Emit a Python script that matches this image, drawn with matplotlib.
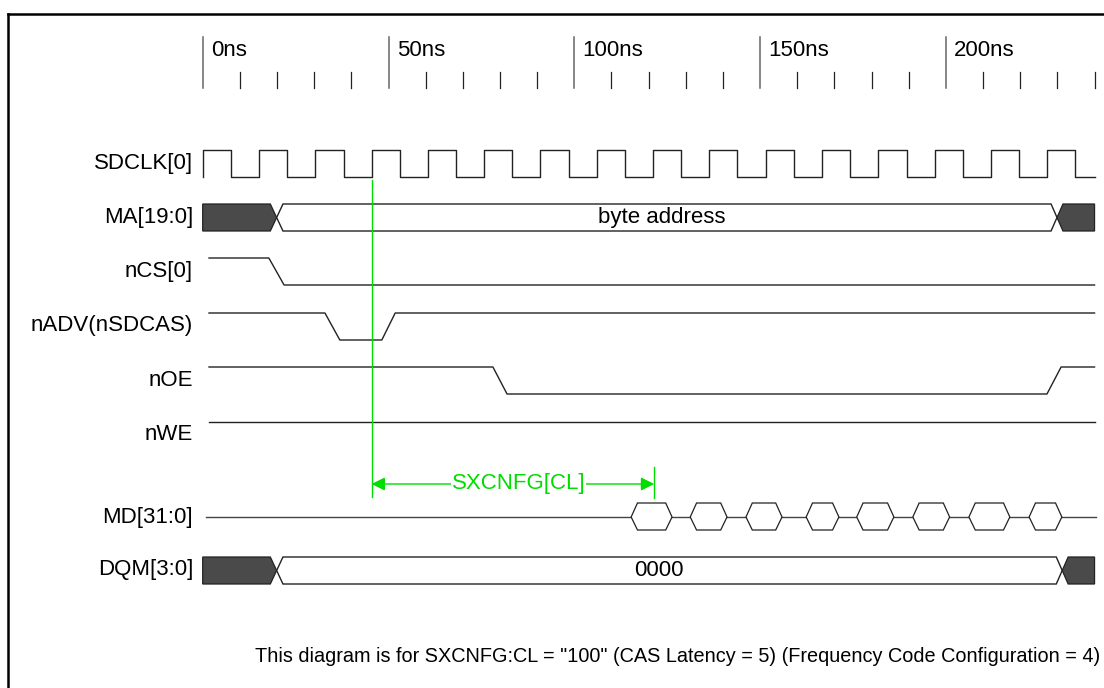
import numpy as np
import matplotlib.pyplot as plt
from matplotlib.patches import Polygon

plt.rcParams['font.family'] = ['Liberation Sans', 'DejaVu Sans']

# time axis (ns)
major_ticks = [0, 50, 100, 150, 200]
major_labels = ["0ns", "50ns", "100ns", "150ns", "200ns"]
minor_ticks = [10, 20, 30, 40, 60, 70, 80, 90, 110, 120, 130, 140,
               160, 170, 180, 190, 210, 220, 230, 240]

# SDCLK[0] edges (ns)
clk_rise = [0, 15.15, 30.3, 45.45, 60.6, 75.75, 90.9, 106.05, 121.2,
            136.35, 151.5, 166.65, 181.8, 196.95, 212.1, 227.25]
clk_fall = [7.6, 22.7, 37.9, 53.0, 68.2, 83.3, 98.5, 113.6, 128.8,
            143.9, 159.1, 174.2, 189.4, 204.5, 219.7, 234.8]

# control signals: times (ns) and levels
ncs_t = [1.7, 17.8, 21.9, 240]
ncs_v = [1, 1, 0, 0]
nadv_t = [1.7, 32.9, 36.9, 48.2, 51.8, 240]
nadv_v = [1, 1, 0, 0, 1, 1]
noe_t = [1.7, 78.1, 81.9, 227.2, 231.0, 240]
noe_v = [1, 1, 0, 0, 1, 1]
nwe_t = [1.7, 240]
nwe_v = [1, 1]

# busses: dark end, valid start, valid end, dark start
ma_edges = [18.2, 21.6, 228.3, 231.5]
dqm_edges = [18.2, 21.6, 229.7, 232.9]
ma_text_t = 123.5
dqm_text_t = 122.8

# MD[31:0] data windows
md_windows = [(115.3, 126.3), (131.2, 141.1), (146.2, 155.9), (162.4, 171.2),
              (176.0, 186.0), (191.1, 201.0), (206.2, 217.2), (222.4, 231.2)]

labels = ["SDCLK[0]", "MA[19:0]", "nCS[0]", "nADV(nSDCAS)", "nOE", "nWE",
          "MD[31:0]", "DQM[3:0]"]
label_y = [163, 217, 271, 325, 380, 435, 517, 570]

# pixel mapping: x_px = 202.7 + 3.716 * t
px_per_ns = 3.716
x0 = -202.7 / px_per_ns
x1 = (1104 - 202.7) / px_per_ns

line_c = '#222222'
dark_c = '#4a4a4a'
green = '#00dd00'
fs = 16

fig = plt.figure(figsize=(11.04, 6.88), dpi=100)
ax = fig.add_axes([0, 0, 1, 1])
ax.set_xlim(x0, x1)
ax.set_ylim(688, 0)
ax.axis('off')

# frame
ax.plot([(8.5 - 202.7) / px_per_ns, x1], [14, 14], color='black', lw=1.8)
ax.plot([(8.5 - 202.7) / px_per_ns] * 2, [14, 688], color='black', lw=1.8)

# time ruler
for t, lab in zip(major_ticks, major_labels):
    ax.plot([t, t], [37, 88], color='#666666', lw=1.1)
    ax.text(t + 2.2, 51, lab, fontsize=fs, ha='left', va='center')
for t in minor_ticks:
    ax.plot([t, t], [72, 88], color=line_c, lw=0.9)

# labels
for lab, y in zip(labels, label_y):
    ax.text(-2.6, y, lab, fontsize=fs, ha='right', va='center')

# clock
hi, lo = 150, 177
cx, cy = [0], [lo]
for r, f in zip(clk_rise, clk_fall):
    cx += [r, r, f, f]
    cy += [lo, hi, hi, lo]
cx.append(240)
cy.append(lo)
ax.plot(cx, cy, color=line_c, lw=1.0)


def signal(t, v, y_hi, y_lo):
    y = [y_lo - lv * (y_lo - y_hi) for lv in v]
    ax.plot(t, y, color=line_c, lw=1.0)


signal(ncs_t, ncs_v, 258, 285)
signal(nadv_t, nadv_v, 313, 340)
signal(noe_t, noe_v, 367, 394)
signal(nwe_t, nwe_v, 422, 449)


def bus(edges, top, bot, text, text_t):
    a, b, c, d = edges
    mid = (top + bot) / 2
    ma, md = (a + b) / 2, (c + d) / 2
    ax.add_patch(Polygon([(0, top), (a, top), (ma, mid), (a, bot), (0, bot)],
                         closed=True, fc=dark_c, ec=line_c, lw=0.9))
    ax.add_patch(Polygon([(ma, mid), (b, top), (c, top), (md, mid), (c, bot), (b, bot)],
                         closed=True, fc='white', ec=line_c, lw=1.0))
    ax.add_patch(Polygon([(md, mid), (d, top), (240, top), (240, bot), (d, bot)],
                         closed=True, fc=dark_c, ec=line_c, lw=0.9))
    ax.text(text_t, mid, text, fontsize=fs, ha='center', va='center')


bus(ma_edges, 204, 231, "byte address", ma_text_t)
bus(dqm_edges, 557, 584, "0000", dqm_text_t)

# MD data bus
md_y, md_top, md_bot = 517, 503, 530
ax.plot([0.9, 240.4], [md_y, md_y], color='#444444', lw=1.0, zorder=1)
for s, e in md_windows:
    sl = 1.7
    ax.add_patch(Polygon([(s, md_y), (s + sl, md_top), (e - sl, md_top), (e, md_y),
                          (e - sl, md_bot), (s + sl, md_bot)],
                         closed=True, fc='white', ec=line_c, lw=0.9, zorder=2))

# CAS latency marker
t_a, t_b = 45.45, 121.5
ax.plot([t_a, t_a], [180, 497], color=green, lw=1)
ax.plot([t_b, t_b], [467, 498], color=green, lw=1)
ax.annotate('', xy=(t_a, 484), xytext=(t_b, 484),
            arrowprops=dict(arrowstyle='<|-|>', color=green, lw=1,
                            mutation_scale=20, shrinkA=0, shrinkB=0))
ax.text(85.1, 484, "SXCNFG[CL]", fontsize=fs, color=green, ha='center', va='center',
        bbox=dict(fc='white', ec='none', pad=0.5))

ax.text((1100 - 202.7) / px_per_ns, 657,
        'This diagram is for SXCNFG:CL = "100" (CAS Latency = 5) (Frequency Code Configuration = 4)',
        fontsize=14.3, ha='right', va='center')

fig.savefig("out.png", dpi=100)
